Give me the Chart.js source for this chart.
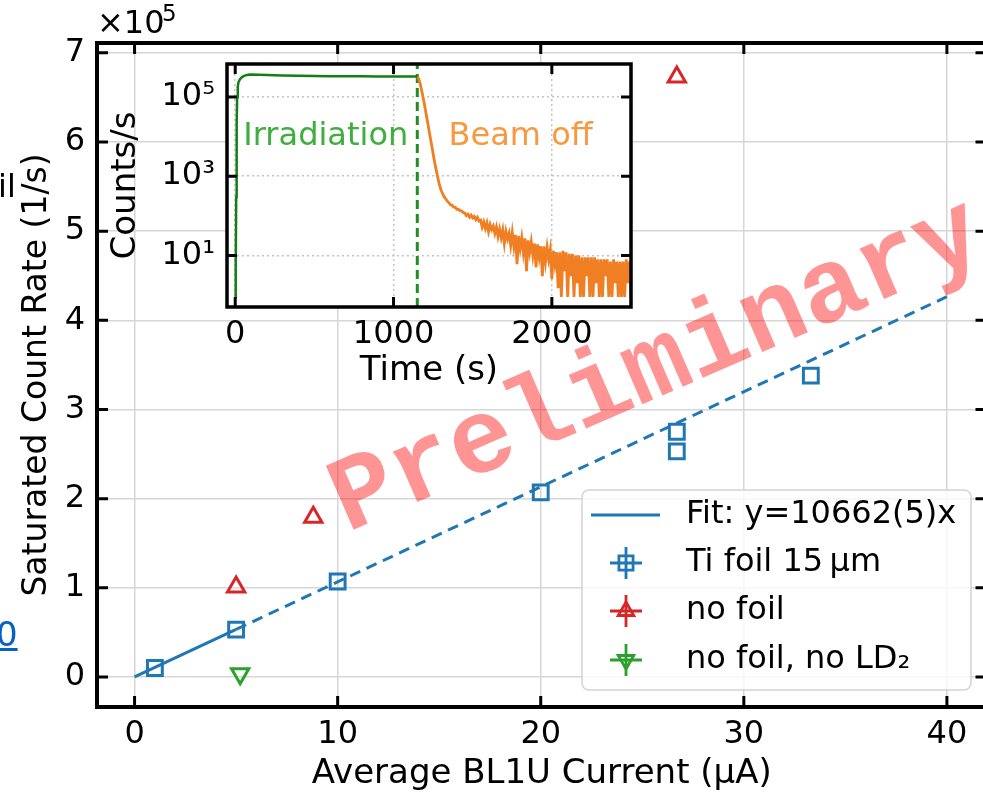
<!DOCTYPE html>
<html>
<head>
<meta charset="utf-8">
<script src="https://cdn.jsdelivr.net/npm/chart.js@4.4.1/dist/chart.umd.min.js"></script>
<style>
  html, body { margin: 0; padding: 0; background: #fff; overflow: hidden; width: 983px; height: 795px; }
  #wrap { position: relative; width: 983px; height: 795px; overflow: hidden; }
  #main { position: absolute; left: 0; top: 0; }
  #inset { position: absolute; left: 100px; top: 24px; }
  .side { position: absolute; font-family: 'DejaVu Sans', sans-serif; white-space: nowrap; line-height: 1; z-index: 2; }
</style>
</head>
<body>
<div id="wrap">
  <canvas id="main" width="1000" height="795"></canvas>
  <canvas id="inset" width="560" height="376"></canvas>
  <div class="side" style="left:-2px; top:170px; font-size:32px; color:#000;">il</div>
  <div class="side" style="left:-4px; top:617px; font-size:34px; color:#0563c1; text-decoration:underline;">0</div>
</div>
<script>
// ---- main plot data (counts/s vs average current in uA) ----
const tiX = [1, 5, 10, 20, 26.7, 26.7, 33.3];
const tiY = [10000, 53000, 107000, 207000, 253000, 275000, 338000];
const noFoilX = [5, 8.8, 26.7];
const noFoilY = [101000, 179000, 673000];
const noLdX = [5.2];
const noLdY = [3500];
const fitSolidX = [0, 5];
const fitSolidY = [0, 53310];
const fitDashX = [5, 40];
const fitDashY = [53310, 426480];
const xTicks = [0, 10, 20, 30, 40];
const yTicks = [0, 100000, 200000, 300000, 400000, 500000, 600000, 700000];

// ---- inset data (counts/s vs time) ----
const irrT = [0, 3, 6, 9, 12, 16, 20, 30, 45, 60, 80, 100, 150, 200, 300, 400, 500, 600, 700, 800, 900, 1000, 1100, 1150];
const irrC = [0.9, 5, 300, 20000, 100000, 180000, 230000, 280000, 320000, 345000, 360000, 365000, 362000, 355000, 345000, 340000, 336000, 333000, 332000, 330000, 329000, 328000, 327000, 326000];
const decayT = [
  1150, 1160, 1170, 1180, 1190, 1200, 1210, 1220, 1230, 1240,
  1250, 1260, 1270, 1280, 1290, 1300, 1310, 1320, 1330, 1340,
  1350, 1360, 1370, 1380, 1390, 1400, 1410, 1420, 1430, 1440,
  1450, 1460, 1470, 1480, 1490, 1500, 1510, 1520, 1530, 1540,
  1550, 1560, 1570, 1580, 1590, 1600, 1610, 1620, 1630, 1640,
  1650, 1660, 1670, 1680, 1690, 1700, 1710, 1720, 1730, 1740,
  1750, 1760, 1770, 1780, 1790, 1800, 1810, 1820, 1830, 1840,
  1850, 1860, 1870, 1880, 1890, 1900, 1910, 1920, 1930, 1940,
  1950, 1960, 1970, 1980, 1990, 2000, 2010, 2020, 2030, 2040,
  2050, 2060, 2070, 2080, 2090, 2100, 2110, 2120, 2130, 2140,
  2150, 2160, 2170, 2180, 2190, 2200, 2210, 2220, 2230, 2240,
  2250, 2260, 2270, 2280, 2290, 2300, 2310, 2320, 2330, 2340,
  2350, 2360, 2370, 2380, 2390, 2400, 2410, 2420, 2430, 2440,
  2450, 2460, 2470, 2480, 2490, 2500
];
const decayC = [
  326000, 280000, 200000, 130000, 83000, 50000, 30000, 18000, 10500, 6300,
  3700, 2200, 1400, 900, 600, 450, 360, 300, 265, 235,
  212, 190, 184, 165, 163, 146, 147, 134, 133, 120,
  118, 101, 110, 92, 104, 88, 97, 80, 91, 74,
  78, 52, 70, 48, 66, 40, 60, 45, 55, 36,
  52, 30, 46, 28, 44, 20, 40, 26, 36, 18,
  38, 17, 33, 6, 31, 15, 28, 12, 27, 4,
  24, 12, 22, 10, 20, 5, 19, 9, 17, 3,
  17, 7, 16, 8, 14, 2.5, 13, 6, 12, 1.5,
  12, 0.9, 13, 4, 12, 0.9, 11, 3, 11, 0.9,
  10, 2, 10, 0.9, 9, 0.9, 9, 3, 9, 0.9,
  9, 0.9, 9, 2, 8, 0.9, 8, 0.9, 8, 3,
  8, 0.9, 7, 0.9, 8, 2, 7, 0.9, 7, 0.9,
  7, 0.9, 8, 2, 7, 0.9
];
const beamOffT = 1150;
const insetYMin = 0.5, insetYMax = 676000;
const insetXTicks = [0, 1000, 2000];
const insetYTicks = [10, 1000, 100000];
const insetYTickText = { 10: '10\u00B9', 1000: '10\u00B3', 100000: '10\u2075' };
const irrLabelT = 572, beamLabelT = 1803, phaseLabelC = 6000;

const BLUE = '#1f77b4', RED = '#d62728', GREEN = '#2ca02c';
const FONT = "'DejaVu Sans', sans-serif";

Chart.defaults.font.family = FONT;
Chart.defaults.font.size = 32;
Chart.defaults.color = '#000';
Chart.defaults.animation = false;

function pts(xs, ys) { return xs.map((x, i) => ({ x: x, y: ys[i] })); }
function fixTicks(vals) { return s => { s.ticks = vals.map(v => ({ value: v })); }; }

function marker(ctx, style, x, y, r) {
  ctx.beginPath();
  if (style === 'rect') {
    const s = r * Math.SQRT1_2;
    ctx.rect(x - s, y - s, 2 * s, 2 * s);
  } else {
    const dir = style === 'up' ? 1 : -1;
    for (let k = 0; k < 3; k++) {
      const a = k * 2 * Math.PI / 3;
      const px = x + Math.sin(a) * r, py = y - dir * Math.cos(a) * r;
      k === 0 ? ctx.moveTo(px, py) : ctx.lineTo(px, py);
    }
    ctx.closePath();
  }
  ctx.stroke();
}

// inward ticks + heavy frame, matplotlib style
function frameAndTicks(chart, lw, len, tw) {
  const { ctx, chartArea: a } = chart;
  const xs = chart.scales.x, ys = chart.scales.y;
  ctx.save();
  ctx.strokeStyle = '#000';
  ctx.lineWidth = tw;
  ctx.beginPath();
  xs.ticks.forEach(t => {
    const p = xs.getPixelForValue(t.value);
    ctx.moveTo(p, a.bottom); ctx.lineTo(p, a.bottom - len);
    ctx.moveTo(p, a.top); ctx.lineTo(p, a.top + len);
  });
  ys.ticks.forEach(t => {
    const p = ys.getPixelForValue(t.value);
    ctx.moveTo(a.left, p); ctx.lineTo(a.left + len, p);
    ctx.moveTo(a.right, p); ctx.lineTo(a.right - len, p);
  });
  ctx.stroke();
  ctx.lineWidth = lw;
  ctx.strokeRect(a.left, a.top, a.right - a.left, a.bottom - a.top);
  ctx.restore();
}

const mainDecor = {
  id: 'mainDecor',
  afterDatasetsDraw(chart) {
    const ctx = chart.ctx;
    frameAndTicks(chart, 4, 11, 3);

    // offset text
    ctx.save();
    ctx.fillStyle = '#000';
    ctx.textBaseline = 'alphabetic';
    ctx.font = '32px ' + FONT;
    ctx.fillText('\u00D710', 97, 33);
    ctx.font = '23px ' + FONT;
    ctx.fillText('5', 162, 21);
    ctx.restore();

    // legend
    const lx = 582, ly = 490, lwid = 389, lh = 200;
    ctx.save();
    ctx.beginPath();
    ctx.roundRect(lx, ly, lwid, lh, 7);
    ctx.fillStyle = 'rgba(255,255,255,0.8)';
    ctx.fill();
    ctx.strokeStyle = '#d4d4d4';
    ctx.lineWidth = 1.5;
    ctx.stroke();
    const rows = [515, 563, 611, 660];
    const labels = ['Fit: y=10662(5)x', 'Ti foil 15\u2009\u00B5m', 'no foil', 'no foil, no LD\u2082'];
    ctx.lineWidth = 3;
    ctx.strokeStyle = BLUE;
    ctx.beginPath(); ctx.moveTo(591, rows[0]); ctx.lineTo(660, rows[0]); ctx.stroke();
    const mk = [[BLUE, 'rect', 10], [RED, 'up', 9], [GREEN, 'down', 9]];
    mk.forEach((m, i) => {
      const cy = rows[i + 1], cx = 626;
      ctx.strokeStyle = m[0];
      ctx.lineWidth = 2.8;
      ctx.beginPath();
      ctx.moveTo(cx - 16, cy); ctx.lineTo(cx + 16, cy);
      ctx.moveTo(cx, cy - 16); ctx.lineTo(cx, cy + 16);
      ctx.stroke();
      marker(ctx, m[1], cx, cy, m[2]);
    });
    ctx.fillStyle = '#000';
    ctx.font = '32px ' + FONT;
    ctx.textBaseline = 'middle';
    labels.forEach((t, i) => ctx.fillText(t, 686, rows[i]));
    ctx.restore();
  },
  afterDraw(chart) {
    const ctx = chart.ctx;
    ctx.save();
    ctx.translate(668, 393);
    ctx.rotate(-23.5 * Math.PI / 180);
    ctx.font = "bold 106px 'Liberation Mono', monospace";
    ctx.fillStyle = 'rgba(255,0,0,0.42)';
    ctx.textAlign = 'center';
    ctx.textBaseline = 'alphabetic';
    ctx.fillText('Preliminary', 0, 0);
    ctx.restore();
  }
};

new Chart(document.getElementById('main'), {
  type: 'scatter',
  data: {
    datasets: [
      { data: pts(fitSolidX, fitSolidY), showLine: true, borderColor: BLUE, borderWidth: 3, pointRadius: 0 },
      { data: pts(fitDashX, fitDashY), showLine: true, borderColor: BLUE, borderWidth: 3, borderDash: [11, 7], pointRadius: 0 },
      { data: pts(tiX, tiY), pointStyle: 'rect', pointRadius: 10.5, borderColor: BLUE, backgroundColor: 'rgba(0,0,0,0)', pointBorderWidth: 3 },
      { data: pts(noFoilX, noFoilY), pointStyle: 'triangle', pointRadius: 10, borderColor: RED, backgroundColor: 'rgba(0,0,0,0)', pointBorderWidth: 3 },
      { data: pts(noLdX, noLdY), pointStyle: 'triangle', rotation: 180, pointRadius: 10, borderColor: GREEN, backgroundColor: 'rgba(0,0,0,0)', pointBorderWidth: 3 }
    ]
  },
  options: {
    responsive: false,
    devicePixelRatio: 1,
    layout: { padding: { top: 43, right: 13, left: 0, bottom: 0 } },
    plugins: { legend: { display: false }, tooltip: { enabled: false } },
    scales: {
      x: {
        type: 'linear', min: -1.85, max: 41.95,
        afterFit: s => { s.height = 88; },
        afterBuildTicks: fixTicks(xTicks),
        ticks: { padding: 8, font: { size: 32 }, callback: v => String(v) },
        grid: { color: '#d6d6d6', lineWidth: 1.5, drawTicks: false },
        border: { display: false },
        title: { display: true, text: 'Average BL1U Current (\u00B5A)', font: { size: 34 }, padding: { top: 0, bottom: 0 } }
      },
      y: {
        type: 'linear', min: -33700, max: 711000,
        afterFit: s => { s.width = 97; },
        afterBuildTicks: fixTicks(yTicks),
        ticks: { padding: 12, font: { size: 32 }, callback: v => String(v / 100000) },
        grid: { color: '#d6d6d6', lineWidth: 1.5, drawTicks: false },
        border: { display: false },
        title: { display: true, text: 'Saturated Count Rate (1/s)', font: { size: 33 }, padding: { top: 18, bottom: 0 } }
      }
    }
  },
  plugins: [mainDecor]
});

const insetDecor = {
  id: 'insetDecor',
  beforeDraw(chart) {
    const { ctx, chartArea: a } = chart;
    ctx.save();
    ctx.fillStyle = '#fff';
    ctx.fillRect(a.left, a.top, a.right - a.left, a.bottom - a.top);
    ctx.restore();
  },
  afterDatasetsDraw(chart) {
    const ctx = chart.ctx;
    const xs = chart.scales.x, ys = chart.scales.y;
    ctx.save();
    ctx.font = '32px ' + FONT;
    ctx.textAlign = 'center';
    ctx.textBaseline = 'alphabetic';
    ctx.fillStyle = '#3fae3f';
    ctx.fillText('Irradiation', xs.getPixelForValue(irrLabelT), ys.getPixelForValue(phaseLabelC));
    ctx.fillStyle = '#f8993f';
    ctx.fillText('Beam off', xs.getPixelForValue(beamLabelT), ys.getPixelForValue(phaseLabelC));
    ctx.restore();
    frameAndTicks(chart, 3.5, 10, 3);
  }
};

new Chart(document.getElementById('inset'), {
  type: 'scatter',
  data: {
    datasets: [
      { data: pts(irrT, irrC), showLine: true, borderColor: '#137f13', borderWidth: 2.5, pointRadius: 0 },
      { data: pts(decayT, decayC), showLine: true, borderColor: '#f07e22', borderWidth: 2.8, pointRadius: 0 },
      { data: [{ x: beamOffT, y: insetYMin }, { x: beamOffT, y: insetYMax }], showLine: true, borderColor: '#1f8f1f', borderWidth: 3, borderDash: [9, 5], pointRadius: 0 }
    ]
  },
  options: {
    responsive: false,
    devicePixelRatio: 1,
    layout: { padding: { top: 40, right: 29, left: 0, bottom: 0 } },
    plugins: { legend: { display: false }, tooltip: { enabled: false } },
    scales: {
      x: {
        type: 'linear', min: -52, max: 2500,
        afterFit: s => { s.height = 93; },
        afterBuildTicks: fixTicks(insetXTicks),
        ticks: { padding: 8, font: { size: 32 }, callback: v => String(v) },
        grid: { color: '#c4c4c4', lineWidth: 1.5, drawTicks: false },
        border: { display: false, dash: [2, 3] },
        title: { display: true, text: 'Time (s)', font: { size: 34 }, padding: { top: 0, bottom: 8 } }
      },
      y: {
        type: 'logarithmic', min: insetYMin, max: insetYMax,
        afterFit: s => { s.width = 127; },
        afterBuildTicks: fixTicks(insetYTicks),
        ticks: { padding: 12, font: { size: 32 }, callback: v => insetYTickText[v] || '' },
        grid: { color: '#c4c4c4', lineWidth: 1.5, drawTicks: false },
        border: { display: false, dash: [2, 3] },
        title: { display: true, text: 'Counts/s', font: { size: 34 }, padding: { top: 6, bottom: 0 } }
      }
    }
  },
  plugins: [insetDecor]
});
</script>
</body>
</html>
